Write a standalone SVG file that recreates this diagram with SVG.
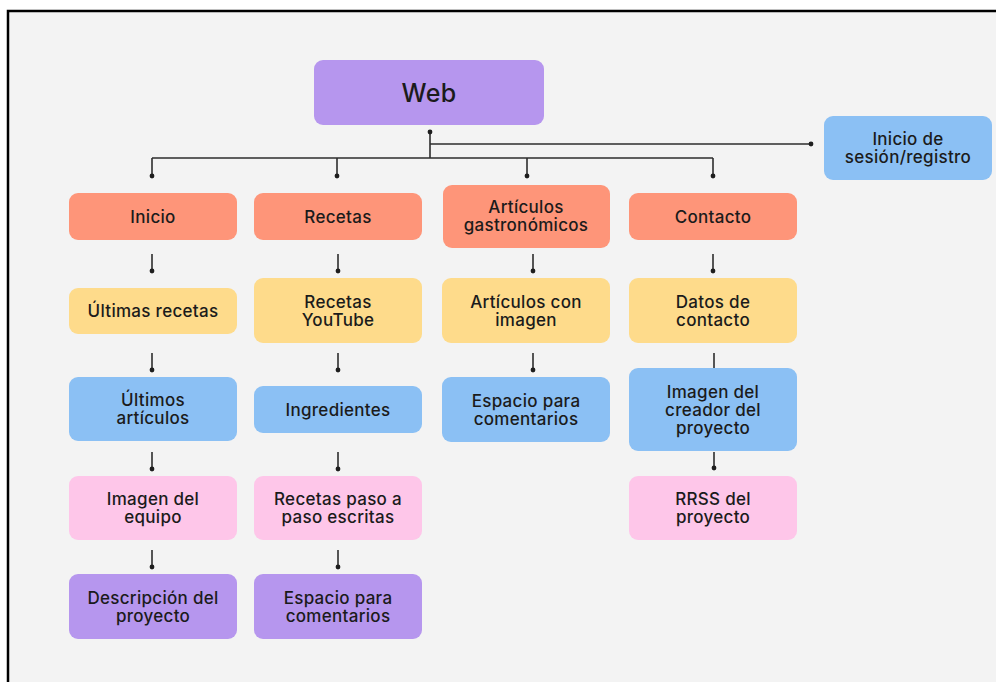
<svg xmlns="http://www.w3.org/2000/svg" width="996" height="682" viewBox="0 0 996 682">
<style>
  .box { rx: 9px; ry: 9px; }
  .purple { fill: #b696ee; }
  .salmon { fill: #fe9579; }
  .yellow { fill: #fedb8b; }
  .blue { fill: #8bc0f4; }
  .pink { fill: #fec6e9; }
  text { font-family: Inter, "Open Sans", "Liberation Sans", sans-serif; font-size: 17px; font-weight: 500; fill: #1b1b1b; text-anchor: middle; letter-spacing: 0.3px; }
  .title { font-size: 25px; }
  .ln { stroke: #2e2e2e; stroke-width: 1.6; fill: none; }
  .dot { fill: #1e1e1e; }
</style>
<rect x="8" y="11" width="988" height="671" fill="#f3f3f3"/>
<path d="M8,682 V11 H996" fill="none" stroke="#000" stroke-width="2.5"/>

<g id="connectors">
  <path class="ln" d="M430,132 V158 M152,158 H713 M152,158 V176 M337,158 V176 M527,158 V176 M713,158 V176 M430,144 H811"/>
  <circle class="dot" cx="430" cy="132" r="2.4"/>
  <circle class="dot" cx="152" cy="176" r="2.4"/>
  <circle class="dot" cx="337" cy="176" r="2.4"/>
  <circle class="dot" cx="527" cy="176" r="2.4"/>
  <circle class="dot" cx="713" cy="176" r="2.4"/>
  <circle class="dot" cx="811" cy="144" r="2.4"/>
  <path class="ln" d="M152,254 V271 M338,254 V271 M533,254 V271 M713,254 V271 M152,353 V370 M338,353 V370 M533,353 V370 M714,353 V368 M152,452 V469 M338,452 V469 M714,452 V468 M152,550 V567 M338,550 V567"/>
  <circle class="dot" cx="152" cy="271" r="2.4"/>
  <circle class="dot" cx="338" cy="271" r="2.4"/>
  <circle class="dot" cx="533" cy="271" r="2.4"/>
  <circle class="dot" cx="713" cy="271" r="2.4"/>
  <circle class="dot" cx="152" cy="370" r="2.4"/>
  <circle class="dot" cx="338" cy="370" r="2.4"/>
  <circle class="dot" cx="533" cy="370" r="2.4"/>
  <circle class="dot" cx="152" cy="469" r="2.4"/>
  <circle class="dot" cx="338" cy="469" r="2.4"/>
  <circle class="dot" cx="714" cy="468" r="2.4"/>
  <circle class="dot" cx="152" cy="567" r="2.4"/>
  <circle class="dot" cx="338" cy="567" r="2.4"/>
</g>

<g id="web">
  <rect class="box purple" x="314" y="60" width="230" height="65"/>
  <text class="title" x="429" y="102">Web</text>
</g>
<g id="login">
  <rect class="box blue" x="824" y="116" width="168" height="64"/>
  <text x="908" y="145">Inicio de<tspan x="908" dy="18">sesión/registro</tspan></text>
</g>

<g id="inicio">
  <rect class="box salmon" x="69" y="193" width="168" height="47"/>
  <text x="153" y="223">Inicio</text>
</g>
<g id="recetas">
  <rect class="box salmon" x="254" y="193" width="168" height="47"/>
  <text x="338" y="223">Recetas</text>
</g>
<g id="articulos">
  <rect class="box salmon" x="443" y="185" width="167" height="63"/>
  <text x="526" y="213">Artículos<tspan x="526" dy="18">gastronómicos</tspan></text>
</g>
<g id="contacto">
  <rect class="box salmon" x="629" y="193" width="168" height="47"/>
  <text x="713" y="223">Contacto</text>
</g>

<g id="ultimas-recetas">
  <rect class="box yellow" x="69" y="288" width="168" height="46"/>
  <text x="153" y="317">Últimas recetas</text>
</g>
<g id="recetas-youtube">
  <rect class="box yellow" x="254" y="278" width="168" height="65"/>
  <text x="338" y="308">Recetas<tspan x="338" dy="18">YouTube</tspan></text>
</g>
<g id="articulos-imagen">
  <rect class="box yellow" x="442" y="278" width="168" height="65"/>
  <text x="526" y="308">Artículos con<tspan x="526" dy="18">imagen</tspan></text>
</g>
<g id="datos-contacto">
  <rect class="box yellow" x="629" y="278" width="168" height="65"/>
  <text x="713" y="308">Datos de<tspan x="713" dy="18">contacto</tspan></text>
</g>

<g id="ultimos-articulos">
  <rect class="box blue" x="69" y="377" width="168" height="64"/>
  <text x="153" y="406">Últimos<tspan x="153" dy="18">artículos</tspan></text>
</g>
<g id="ingredientes">
  <rect class="box blue" x="254" y="386" width="168" height="47"/>
  <text x="338" y="416">Ingredientes</text>
</g>
<g id="espacio-articulos">
  <rect class="box blue" x="442" y="377" width="168" height="65"/>
  <text x="526" y="407">Espacio para<tspan x="526" dy="18">comentarios</tspan></text>
</g>
<g id="imagen-creador">
  <rect class="box blue" x="629" y="368" width="168" height="83"/>
  <text x="713" y="398">Imagen del<tspan x="713" dy="18">creador del</tspan><tspan x="713" dy="18">proyecto</tspan></text>
</g>

<g id="imagen-equipo">
  <rect class="box pink" x="69" y="476" width="168" height="64"/>
  <text x="153" y="505">Imagen del<tspan x="153" dy="18">equipo</tspan></text>
</g>
<g id="recetas-paso">
  <rect class="box pink" x="254" y="476" width="168" height="64"/>
  <text x="338" y="505">Recetas paso a<tspan x="338" dy="18">paso escritas</tspan></text>
</g>
<g id="rrss">
  <rect class="box pink" x="629" y="476" width="168" height="64"/>
  <text x="713" y="505">RRSS del<tspan x="713" dy="18">proyecto</tspan></text>
</g>

<g id="descripcion">
  <rect class="box purple" x="69" y="574" width="168" height="65"/>
  <text x="153" y="604">Descripción del<tspan x="153" dy="18">proyecto</tspan></text>
</g>
<g id="espacio-recetas">
  <rect class="box purple" x="254" y="574" width="168" height="65"/>
  <text x="338" y="604">Espacio para<tspan x="338" dy="18">comentarios</tspan></text>
</g>
</svg>
